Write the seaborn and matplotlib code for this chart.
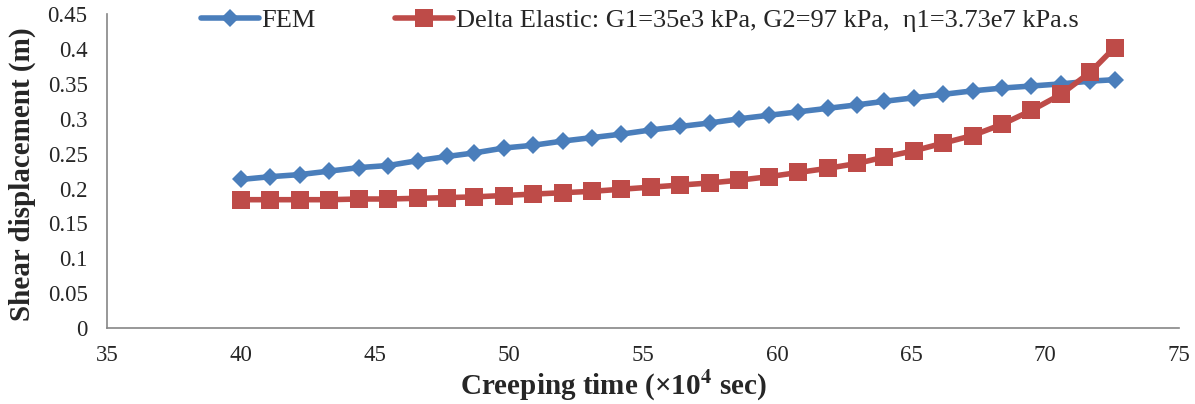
import matplotlib
matplotlib.use("Agg")
import matplotlib.pyplot as plt
from matplotlib.ticker import FuncFormatter, MultipleLocator
import pandas as pd
import seaborn as sns

# creeping time (x10^4 sec)
time = [40.0, 41.1, 42.2, 43.3, 44.4, 45.5, 46.6, 47.7, 48.7, 49.8,
        50.9, 52.0, 53.1, 54.2, 55.3, 56.4, 57.5, 58.6, 59.7, 60.8,
        61.9, 63.0, 64.0, 65.1, 66.2, 67.3, 68.4, 69.5, 70.6, 71.7, 72.6]

# shear displacement (m)
fem = [0.213, 0.217, 0.220, 0.225, 0.230, 0.233, 0.240, 0.246, 0.251, 0.258,
       0.262, 0.268, 0.273, 0.278, 0.284, 0.289, 0.294, 0.300, 0.305, 0.310,
       0.315, 0.320, 0.325, 0.330, 0.335, 0.340, 0.344, 0.347, 0.350, 0.354, 0.356]

delta = [0.184, 0.184, 0.184, 0.184, 0.185, 0.185, 0.186, 0.187, 0.188, 0.190,
         0.192, 0.194, 0.196, 0.199, 0.202, 0.205, 0.208, 0.212, 0.217, 0.223,
         0.229, 0.236, 0.245, 0.254, 0.265, 0.276, 0.292, 0.312, 0.335, 0.367, 0.402]

labels = ["FEM",
          "Delta Elastic: G1=35e3 kPa, G2=97 kPa,  \u03b71=3.73e7 kPa.s"]
colors = ["#4A7EBB", "#BE4B48"]

sns.set_theme(style="white")
plt.rcParams["font.family"] = ["Liberation Serif", "DejaVu Serif"]
plt.rcParams["mathtext.fontset"] = "stix"

df = pd.DataFrame({
    "time": time * 2,
    "disp": fem + delta,
    "series": [labels[0]] * len(time) + [labels[1]] * len(time),
})

fig = plt.figure(figsize=(11.95, 4.04), dpi=100)
ax = fig.add_axes([0.0895, 0.188, 0.897, 0.777])

sns.lineplot(data=df[df["series"] == labels[0]], x="time", y="disp",
             color=colors[0], marker="D", markersize=9.5, linewidth=4,
             markeredgewidth=0, label=labels[0], ax=ax)
sns.lineplot(data=df[df["series"] == labels[1]], x="time", y="disp",
             color=colors[1], marker="s", markersize=13, linewidth=4,
             markeredgewidth=0, label=labels[1], ax=ax)

ax.set_xlim(35, 75)
ax.set_ylim(0, 0.45)
ax.xaxis.set_major_locator(MultipleLocator(5))
ax.yaxis.set_major_locator(MultipleLocator(0.05))
ax.yaxis.set_major_formatter(FuncFormatter(lambda v, p: f"{v:.2f}".rstrip("0").rstrip(".")))
ax.tick_params(length=0, labelsize=16.5)
ax.tick_params(axis="x", pad=12)
ax.tick_params(axis="y", pad=14)

for side in ["top", "right"]:
    ax.spines[side].set_visible(False)
for side in ["left", "bottom"]:
    ax.spines[side].set_color("#868686")
    ax.spines[side].set_linewidth(1.2)

ax.set_xlabel(r"Creeping time (×10$^{\mathbf{4}}$ sec)", fontsize=21,
              fontweight="bold")
ax.set_ylabel("Shear displacement (m)", fontsize=21, fontweight="bold")
ax.xaxis.set_label_coords(0.472, -0.13)
ax.yaxis.set_label_coords(-0.066, 0.49)

ax.legend(loc="upper center", bbox_to_anchor=(0.497, 1.06), ncol=2,
          frameon=False, fontsize=19, handlelength=2.2, columnspacing=3.0,
          handletextpad=0.1, borderpad=0)

fig.savefig("out.png", dpi=100)
